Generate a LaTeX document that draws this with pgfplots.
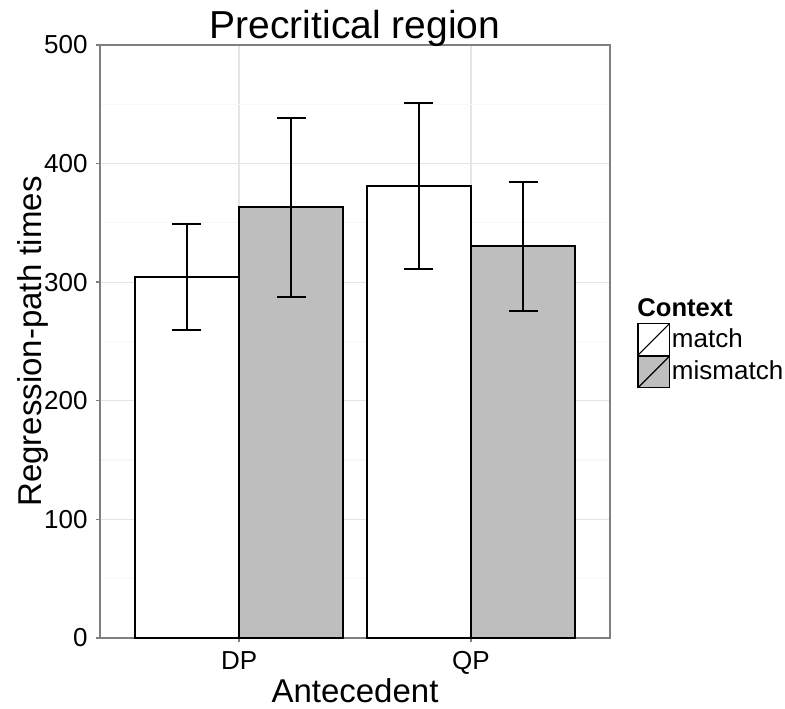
\documentclass[border=0pt]{standalone}
\usepackage{fontspec}
\setmainfont{Liberation Sans}
\usepackage{pgfplots}
\pgfplotsset{compat=1.18}

\definecolor{barfill}{HTML}{BEBEBE}
\definecolor{gridmaj}{HTML}{E5E5E5}
\definecolor{gridmin}{HTML}{F7F7F7}
\definecolor{frame}{HTML}{7F7F7F}

\begin{document}
\begin{tikzpicture}
\begin{axis}[
  scale only axis,
  width=255pt, height=296.5pt,
  xmin=0.4, xmax=2.6,
  ymin=0, ymax=500,
  xtick={1,2}, xticklabels={DP,QP},
  ytick={0,100,...,500},
  minor ytick={50,150,...,450},
  grid=both,
  major grid style={gridmaj, line width=0.6pt},
  minor grid style={gridmin, line width=0.6pt},
  axis line style={frame, line width=0.7pt},
  tick align=outside,
  major tick length=2pt, minor tick length=0pt,
  tick style={frame, line width=0.7pt},
  xtick pos=bottom, ytick pos=left,
  /pgf/number format/assume math mode=true,
  tick label style={font=\fontsize{13}{15}\selectfont, black},
  yticklabel style={inner sep=0pt, xshift=-4pt},
  xticklabel style={inner sep=0pt, yshift=-4.5pt},
  xlabel={Antecedent},
  ylabel={Regression-path times},
  label style={font=\fontsize{16.5}{19}\selectfont},
  xlabel style={at={(axis description cs:0.5,-0.1096)}, anchor=base, inner sep=0pt},
  ylabel style={at={(axis description cs:-0.114,0.5)}, anchor=base, inner sep=0pt},
  title={Precritical region},
  title style={font=\fontsize{19.5}{22}\selectfont, at={(axis description cs:0.5,1)}, anchor=base, inner sep=0pt, yshift=-3pt},
  ybar, bar width=0.45,
  clip=false,
  legend style={at={(axis description cs:1.0529,0.476)}, anchor=west,
    draw=none, fill=none, inner sep=0pt, row sep=0pt, column sep=1pt,
    nodes={inner sep=0pt}, font=\fontsize{13}{15}\selectfont},
  legend cell align=left,
  legend image code/.code={%
    \draw[#1, draw=black, line width=0.6pt] (0pt,-7.85pt) rectangle (15.7pt,7.85pt);
    \draw[black, line width=0.6pt] (0pt,-7.85pt) -- (15.7pt,7.85pt);},
  error bars/error bar style={black, line width=1pt},
  error bars/error mark options={black, line width=1pt, mark size=7.25pt, rotate=90},
]
\addplot[fill=white, draw=black, line width=1pt, bar shift=-0.225,
  error bars/.cd, y dir=both, y explicit]
  coordinates {(1,304.2) +- (0,44.9) (2,381.0) +- (0,69.9)};
\addlegendentry{match}
\addplot[fill=barfill, draw=black, line width=1pt, bar shift=0.225,
  error bars/.cd, y dir=both, y explicit]
  coordinates {(1,363.0) +- (0,75.6) (2,330.4) +- (0,54.5)};
\addlegendentry{mismatch}
\node[anchor=base west, inner sep=0pt, font=\fontsize{12.8}{14}\selectfont\bfseries]
  at (axis description cs:1.0529,0.5418) {Context};
% page frame of the reference, in panel-relative units
\coordinate (pagebl) at (axis description cs:-0.19608,-0.11973);
\coordinate (pagetr) at (axis description cs:1.34314,1.07589);
\end{axis}
\pgfresetboundingbox
\path[use as bounding box] (pagebl) rectangle (pagetr);
\end{tikzpicture}
\end{document}
